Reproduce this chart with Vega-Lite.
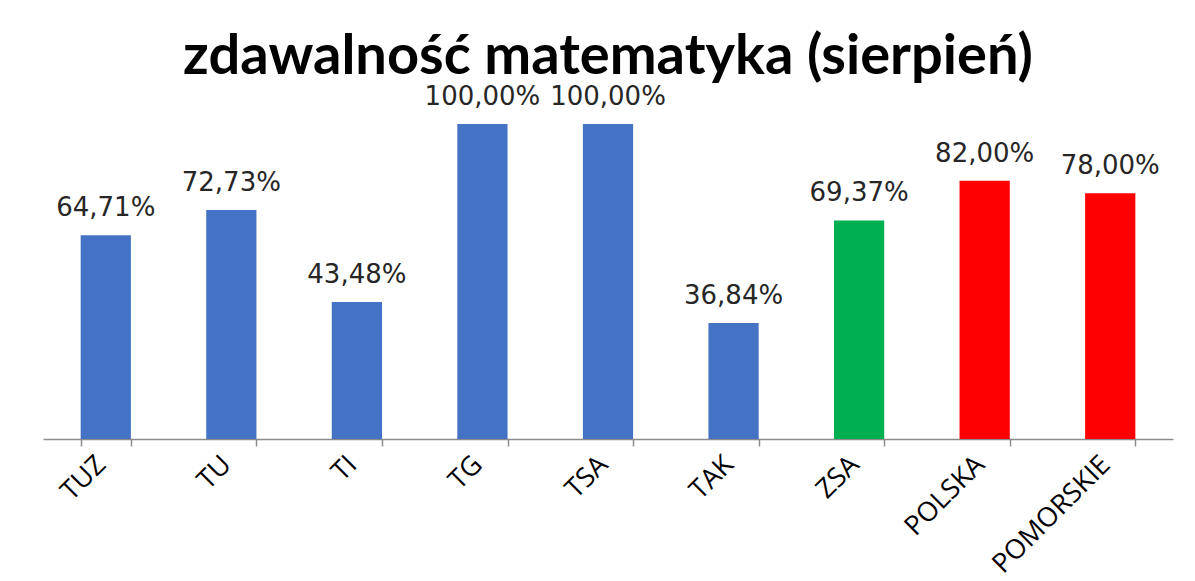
{
  "$schema": "https://vega.github.io/schema/vega-lite/v6.json",
  "autosize": {"type": "none"},
  "padding": {"left": 43, "top": 124, "right": 22, "bottom": 142},
  "width": 1130,
  "height": 315,
  "background": "white",
  "config": {
    "view": {"stroke": null},
    "locale": {"number": {"decimal": ",", "thousands": " ", "grouping": [3], "currency": ["", " zł"]}}
  },
  "title": {
    "text": "zdawalność matematyka (sierpień)",
    "font": "Lato",
    "fontWeight": "bold",
    "fontSize": 56,
    "color": "#000000",
    "anchor": "middle",
    "offset": -2
  },
  "data": {
    "values": [
      {"szkola": "TUZ", "wynik": 0.6471, "grupa": "szkoła"},
      {"szkola": "TU", "wynik": 0.7273, "grupa": "szkoła"},
      {"szkola": "TI", "wynik": 0.4348, "grupa": "szkoła"},
      {"szkola": "TG", "wynik": 1.0, "grupa": "szkoła"},
      {"szkola": "TSA", "wynik": 1.0, "grupa": "szkoła"},
      {"szkola": "TAK", "wynik": 0.3684, "grupa": "szkoła"},
      {"szkola": "ZSA", "wynik": 0.6937, "grupa": "zespół"},
      {"szkola": "POLSKA", "wynik": 0.82, "grupa": "kraj"},
      {"szkola": "POMORSKIE", "wynik": 0.78, "grupa": "kraj"}
    ]
  },
  "encoding": {
    "x": {
      "field": "szkola",
      "type": "nominal",
      "sort": null,
      "scale": {"paddingInner": 0.6, "paddingOuter": 0.3},
      "axis": {
        "title": null,
        "labelAngle": -45,
        "labelFont": "Open Sans",
        "labelFontSize": 27,
        "labelColor": "#000000",
        "labelPadding": 5,
        "labelOffset": -14,
        "domainColor": "#8c8c8c",
        "domainWidth": 1.5,
        "tickColor": "#8c8c8c",
        "tickWidth": 1.5,
        "tickSize": 7,
        "tickBand": "extent",
        "grid": false
      }
    },
    "y": {
      "field": "wynik",
      "type": "quantitative",
      "scale": {"domain": [0, 1], "nice": false},
      "axis": null
    }
  },
  "layer": [
    {
      "mark": {"type": "bar"},
      "encoding": {
        "color": {
          "field": "grupa",
          "type": "nominal",
          "scale": {"domain": ["szkoła", "zespół", "kraj"], "range": ["#4472C4", "#00B050", "#FF0000"]},
          "legend": null
        }
      }
    },
    {
      "mark": {"type": "text", "font": "DejaVu Sans", "fontSize": 26, "color": "#262626", "baseline": "alphabetic", "dy": -19},
      "encoding": {
        "text": {"field": "wynik", "type": "quantitative", "format": ".2%"}
      }
    }
  ]
}
